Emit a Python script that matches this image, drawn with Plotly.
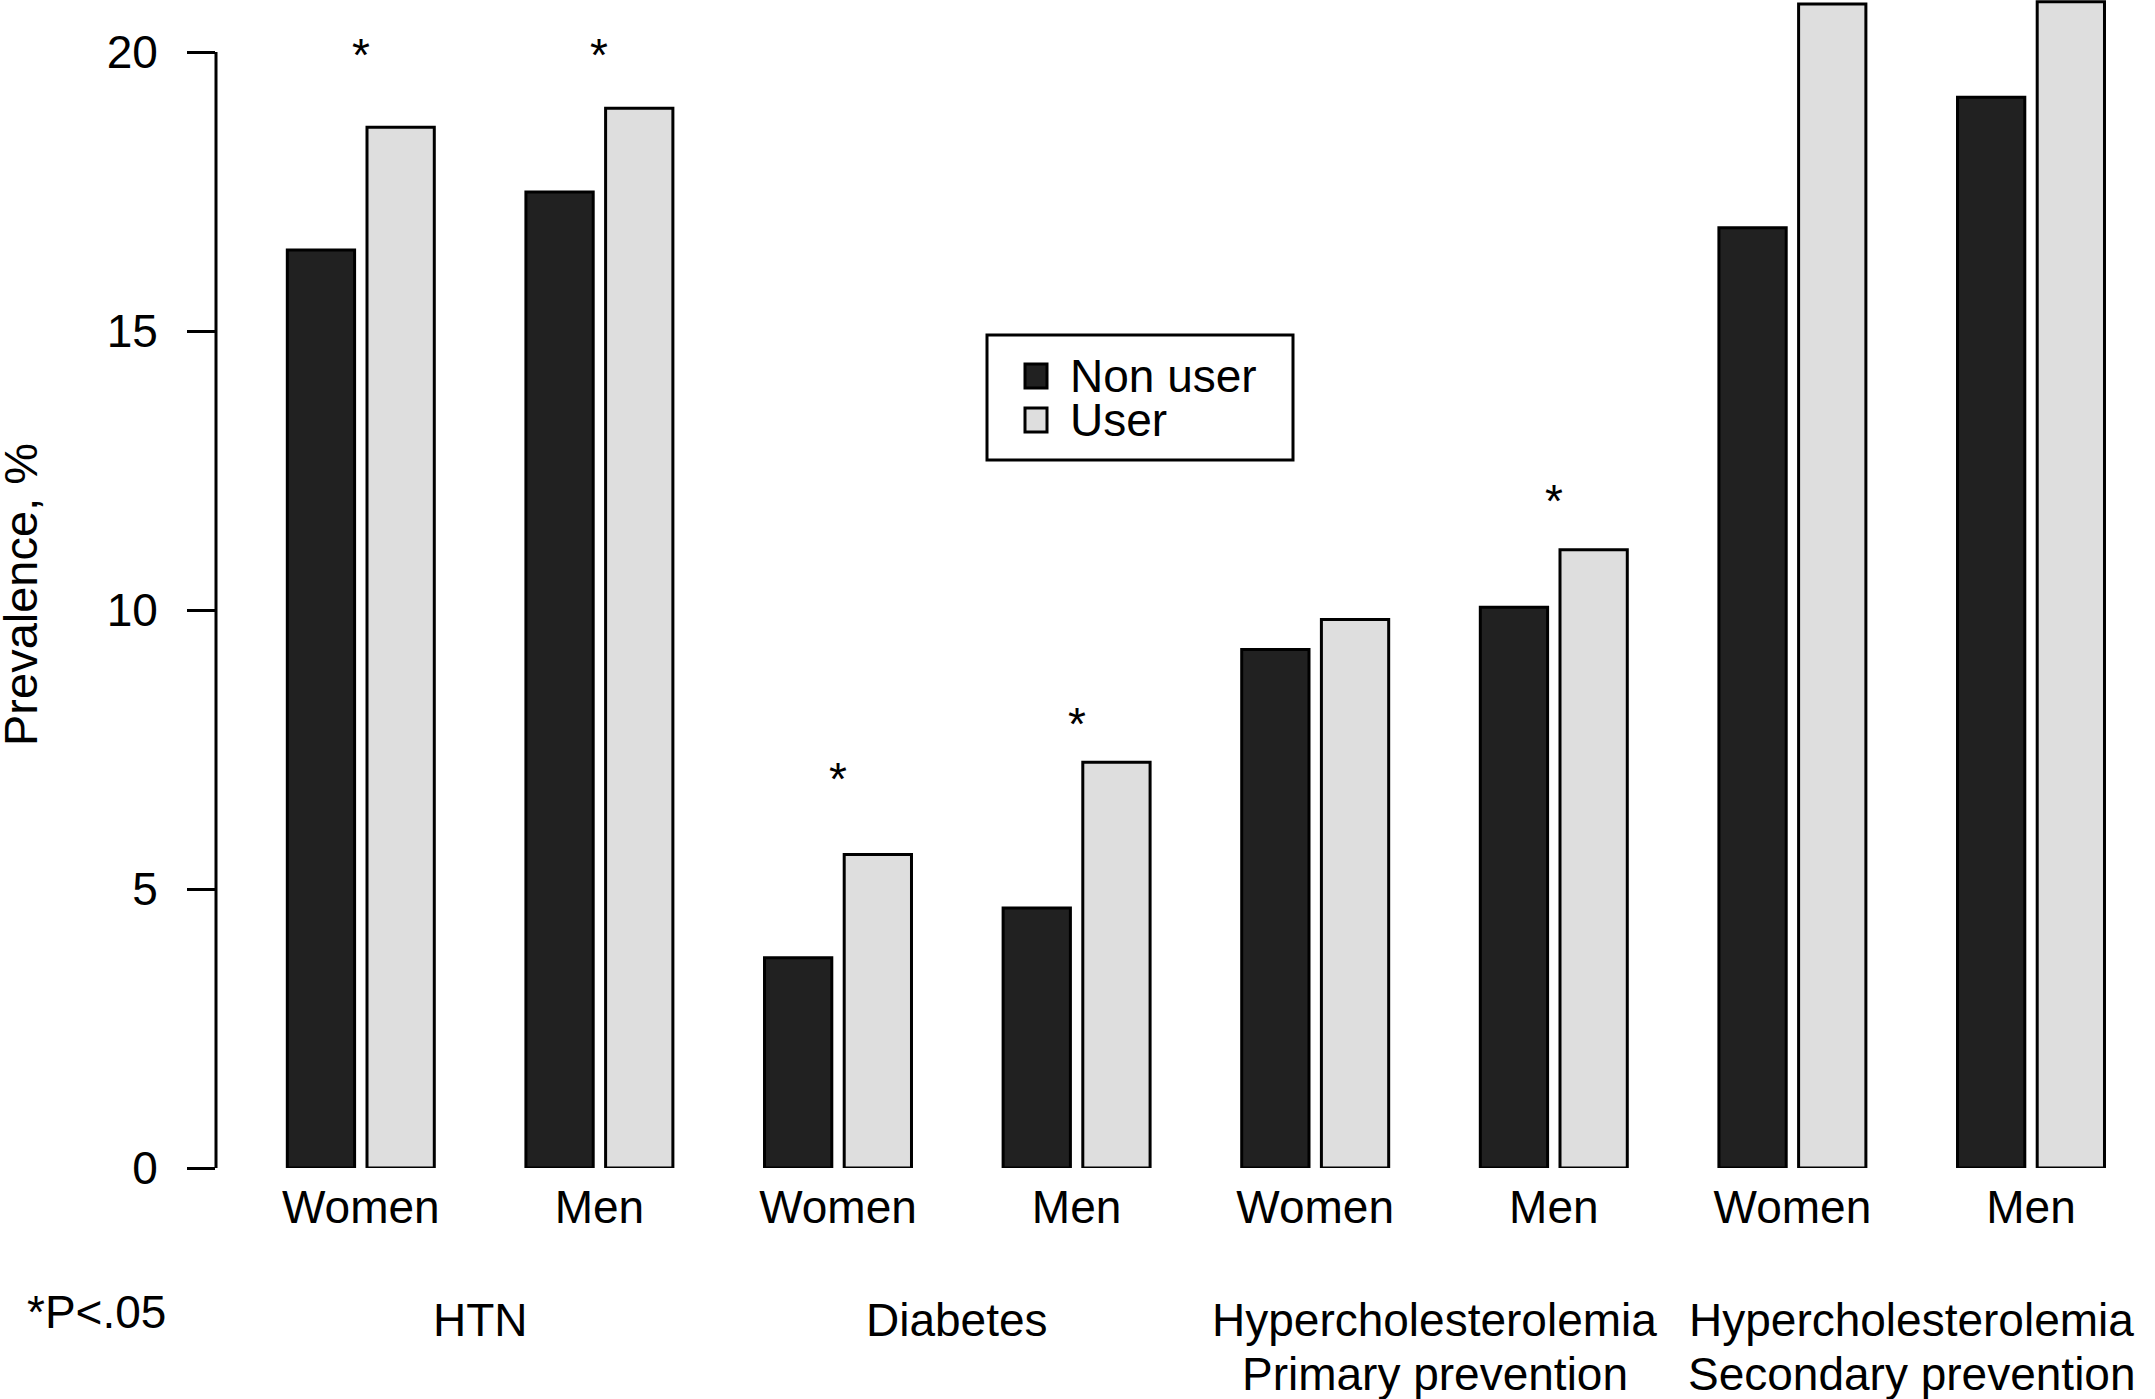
import plotly.graph_objects as go

# ---------------- data ----------------
sex_labels = ["Women", "Men", "Women", "Men", "Women", "Men", "Women", "Men"]
group_labels = [["HTN"], ["Diabetes"],
                ["Hypercholesterolemia", "Primary prevention"],
                ["Hypercholesterolemia", "Secondary prevention"]]
series_names = ["Non user", "User"]
non_user = [16.45, 17.49, 3.77, 4.66, 9.29, 10.05, 16.85, 19.19]
user = [18.65, 18.99, 5.62, 7.27, 9.83, 11.08, 20.86, 20.90]
significant = [True, True, True, True, False, True, False, False]
star_y = [19.95, 19.95, 6.97, 7.96, None, 11.95, None, None]
y_ticks = [0, 5, 10, 15, 20]
footnote = "*P&lt;.05"
y_title = "Prevalence, %"

# ---------------- layout constants ----------------
W, H = 2155, 1399
# plot area in pixels
SX0, SX1, SY0, SY1 = 216, 2155, 0, 1168
L, R, T, B = SX0, W - SX1, SY0, H - SY1
PW, PH = SX1 - SX0, SY1 - SY0
UNIT_Y = (1168 - 52) / 20.0          # px per %
UNIT_X = 238.6                       # px per group slot
X0_PX = 360.8                        # px of first group centre
FONT = "Liberation Sans, Arial, sans-serif"
FS = 46
colors = ["#212121", "#dedede"]
bar_w = 0.282
gap = 0.052
offsets = [-gap / 2 - bar_w, gap / 2]


def pxx(p):
    return (p - SX0) / PW


def pxy(p):
    return (SY1 - p) / PH


xpos = list(range(len(sex_labels)))
x_range = [(SX0 - X0_PX) / UNIT_X, (SX1 - X0_PX) / UNIT_X]
y_range = [0, (SY1 - SY0) / UNIT_Y]

fig = go.Figure()
for name, vals, col, off in zip(series_names, [non_user, user], colors, offsets):
    fig.add_trace(go.Bar(
        x=xpos, y=vals, name=name, width=bar_w, offset=off,
        marker=dict(color=col, line=dict(color="black", width=3)),
        showlegend=False,
    ))

annotations = []
# significance stars
for xi, sig, sy in zip(xpos, significant, star_y):
    if sig and sy is not None:
        annotations.append(dict(x=xi, y=sy, xref="x", yref="y", text="*",
                                showarrow=False, font=dict(size=FS, family=FONT, color="black"),
                                yanchor="middle", xanchor="center"))

# group labels (centered under each pair of sex groups)
for gi, lines in enumerate(group_labels):
    cx = 2 * gi + 0.5
    for li, line in enumerate(lines):
        annotations.append(dict(x=cx, y=pxy(1320 + 54 * li), xref="x", yref="paper",
                                text=line, showarrow=False,
                                font=dict(size=FS, family=FONT, color="black"),
                                xanchor="center", yanchor="middle"))

# footnote
annotations.append(dict(x=pxx(25), y=pxy(1312), xref="paper", yref="paper",
                        text=footnote, showarrow=False,
                        font=dict(size=FS, family=FONT, color="black"),
                        xanchor="left", yanchor="middle"))

# y axis title
annotations.append(dict(x=pxx(20), y=pxy(595), xref="paper", yref="paper",
                        text=y_title, textangle=-90, showarrow=False,
                        font=dict(size=47, family=FONT, color="black"),
                        xanchor="center", yanchor="middle"))

# manual legend (box, swatches, text)
shapes = []
shapes.append(dict(type="rect", xref="paper", yref="paper",
                   x0=pxx(987), x1=pxx(1293), y0=pxy(460), y1=pxy(335),
                   line=dict(color="black", width=3), fillcolor="white"))
leg_rows = [376, 420]
for name, col, cy in zip(series_names, colors, leg_rows):
    shapes.append(dict(type="rect", xref="paper", yref="paper",
                       x0=pxx(1025), x1=pxx(1047), y0=pxy(cy + 12), y1=pxy(cy - 12),
                       line=dict(color="black", width=3), fillcolor=col))
    annotations.append(dict(x=pxx(1068), y=pxy(cy), xref="paper", yref="paper",
                            text=name, showarrow=False,
                            font=dict(size=FS, family=FONT, color="black"),
                            xanchor="left", yanchor="middle"))

# y axis line spanning 0..20 (R style)
shapes.append(dict(type="line", xref="paper", yref="y", x0=0, x1=0,
                   y0=y_ticks[0], y1=y_ticks[-1], line=dict(color="black", width=3)))

fig.update_layout(
    width=W, height=H,
    margin=dict(l=L, r=R, t=T, b=B, pad=0),
    paper_bgcolor="white", plot_bgcolor="white",
    barmode="overlay",
    font=dict(family=FONT, size=FS, color="black"),
    annotations=annotations, shapes=shapes,
    xaxis=dict(range=x_range, tickvals=xpos, ticktext=sex_labels,
               showgrid=False, zeroline=False, showline=False, ticks="",
               ticklabelstandoff=8, tickfont=dict(size=FS, family=FONT, color="black")),
    yaxis=dict(range=y_range, tickvals=y_ticks, ticktext=[str(t) for t in y_ticks],
               showgrid=False, zeroline=False, showline=False,
               ticks="outside", ticklen=28, tickwidth=3, tickcolor="black",
               ticklabelstandoff=20, tickfont=dict(size=FS, family=FONT, color="black")),
)

# remove the default page margin so the figure fills the window exactly
fig.write_html("out.html", config={"displayModeBar": False},
               post_script="document.body.style.margin='0';")
